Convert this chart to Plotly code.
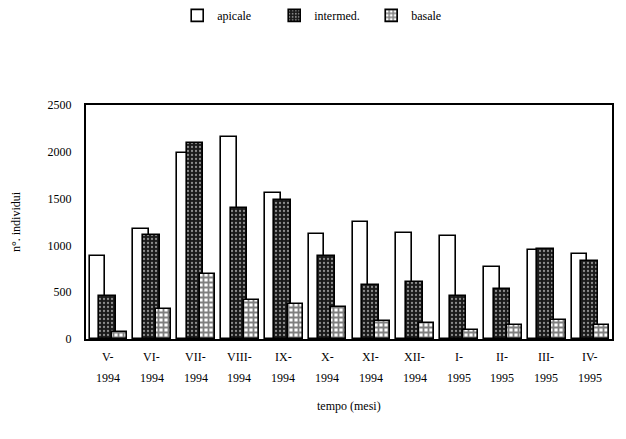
import plotly.graph_objects as go

# Monthly counts of individuals by position (apicale / intermed. / basale)
months = ["V-", "VI-", "VII-", "VIII-", "IX-", "X-", "XI-", "XII-", "I-", "II-", "III-", "IV-"]
years = ["1994", "1994", "1994", "1994", "1994", "1994", "1994", "1994", "1995", "1995", "1995", "1995"]
apicale = [885, 1180, 1990, 2158, 1558, 1127, 1252, 1134, 1098, 765, 948, 910]
intermed = [456, 1109, 2090, 1398, 1480, 888, 574, 606, 456, 535, 966, 831]
basale = [75, 321, 699, 421, 375, 338, 196, 171, 92, 150, 206, 153]

x = list(range(len(months)))
FONT = "Liberation Serif"

fig = go.Figure()
fig.add_trace(go.Bar(
    x=x, y=apicale, name="apicale", width=0.36, offset=-0.42,
    marker=dict(color="white", line=dict(color="black", width=1.6)),
))
fig.add_trace(go.Bar(
    x=x, y=intermed, name="intermed.", width=0.38, offset=-0.2,
    marker=dict(color="#1a1a1a", line=dict(color="black", width=1.6),
                pattern=dict(shape=".", fgcolor="white", bgcolor="#1a1a1a",
                             size=4, solidity=0.25)),
))
fig.add_trace(go.Bar(
    x=x, y=basale, name="basale", width=0.34, offset=0.1,
    marker=dict(color="white", line=dict(color="black", width=1.6),
                pattern=dict(shape="+", fgcolor="black", bgcolor="white",
                             size=5, solidity=0.6)),
))

# Two-row category labels and axis caption
for xi, m, yr in zip(x, months, years):
    fig.add_annotation(x=xi, y=-0.075, xref="x", yref="paper", text=m,
                       showarrow=False, yanchor="middle",
                       font=dict(family=FONT, size=12, color="black"))
    fig.add_annotation(x=xi, y=-0.165, xref="x", yref="paper", text=yr,
                       showarrow=False, yanchor="middle",
                       font=dict(family=FONT, size=12, color="black"))
fig.add_annotation(x=0.5, y=-0.285, xref="paper", yref="paper", text="tempo (mesi)",
                   showarrow=False, yanchor="middle",
                   font=dict(family=FONT, size=12, color="black"))

fig.update_layout(
    width=626, height=439,
    margin=dict(l=86, r=14, t=105, b=100),
    paper_bgcolor="white", plot_bgcolor="white",
    barmode="overlay", bargap=0,
    font=dict(family=FONT, size=12, color="black"),
    showlegend=True,
    legend=dict(orientation="h", x=0.45, xanchor="center", y=0.965, yanchor="middle",
                yref="container", font=dict(family=FONT, size=12, color="black"),
                itemwidth=30, entrywidth=52, entrywidthmode="pixels",
                tracegroupgap=0, traceorder="normal"),
    xaxis=dict(range=[-0.5, 11.5], showticklabels=False, ticks="",
               showline=True, linecolor="black", linewidth=2, mirror=True,
               showgrid=False, zeroline=False),
    yaxis=dict(range=[0, 2500], tickvals=[0, 500, 1000, 1500, 2000, 2500],
               ticks="", ticklabelstandoff=10,
               showline=True, linecolor="black", linewidth=2, mirror=True,
               showgrid=False, zeroline=False,
               title=dict(text="n°. individui", standoff=24,
                          font=dict(family=FONT, size=12, color="black")),
               tickfont=dict(family=FONT, size=12, color="black")),
)

fig.write_html("out.html")
